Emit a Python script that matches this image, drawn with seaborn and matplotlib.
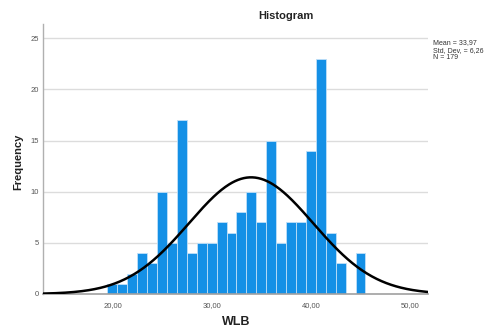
import numpy as np
import pandas as pd
import matplotlib
matplotlib.use("Agg")
import matplotlib.pyplot as plt
import seaborn as sns

# Data
bin_centers = [20, 21, 22, 23, 24, 25, 26, 27, 28, 29, 30, 31, 32, 33, 34, 35,
               36, 37, 38, 39, 40, 41, 42, 43, 44, 45]
counts = [1, 1, 2, 4, 3, 10, 5, 17, 4, 5, 5, 7, 6, 8, 10, 7,
          15, 5, 7, 7, 14, 23, 6, 3, 0, 4]
mean_val = 33.97
std_val = 6.26
n_val = 179
x_ticks = [20, 30, 40, 50]
x_tick_labels = ["20,00", "30,00", "40,00", "50,00"]
y_ticks = [0, 5, 10, 15, 20, 25]

sns.set_style("white")
plt.rcParams['font.family'] = ['Liberation Sans', 'DejaVu Sans']

df = pd.DataFrame({"WLB": bin_centers, "count": counts})

fig = plt.figure(figsize=(4.84, 3.28), dpi=100)
ax = fig.add_axes([43 / 484, 1 - 294 / 328, (428 - 43) / 484, (294 - 24) / 328])

for yv in y_ticks[1:]:
    ax.axhline(yv, color="#dcdcdc", lw=1.0, zorder=0)

sns.histplot(data=df, x="WLB", weights="count", binwidth=1.0,
             binrange=(bin_centers[0] - 0.5, bin_centers[-1] + 0.5), ax=ax,
             color="#1490e6", alpha=1.0, edgecolor="#bfe0f8", linewidth=0.6,
             zorder=2)

xs = np.linspace(13, 52, 400)
pdf = n_val * 1.0 / (std_val * np.sqrt(2 * np.pi)) * np.exp(-0.5 * ((xs - mean_val) / std_val) ** 2)
sns.lineplot(x=xs, y=pdf, ax=ax, color="black", lw=1.8, zorder=3)

ax.set_xlim(13.0, 51.8)
ax.set_ylim(0, 26.4)
ax.set_xticks(x_ticks)
ax.set_xticklabels(x_tick_labels)
ax.set_yticks(y_ticks)
ax.tick_params(axis="both", length=0, labelsize=5.5, labelcolor="#555555")
ax.tick_params(axis="x", pad=6)
ax.tick_params(axis="y", pad=3)

for s in ["top", "right"]:
    ax.spines[s].set_visible(False)
ax.spines["left"].set_color("#b0b0b0")
ax.spines["left"].set_linewidth(1.0)
ax.spines["bottom"].set_color("#a0a0a0")
ax.spines["bottom"].set_linewidth(1.2)

ax.set_xlabel("")
ax.set_ylabel("")
fig.text(236 / 484, 1 - 322 / 328, "WLB", ha="center", va="center",
         fontsize=9, fontweight="bold", color="#222222")
fig.text(18 / 484, 1 - 162 / 328, "Frequency", ha="center", va="center",
         rotation=90, fontsize=8, fontweight="bold", color="#222222")
fig.text(286 / 484, 1 - 16 / 328, "Histogram", ha="center", va="center",
         fontsize=8, fontweight="bold", color="#222222")

stats = [f"Mean = {mean_val:.2f}".replace(".", ","),
         f"Std. Dev. = {std_val:.2f}".replace(".", ","),
         f"N = {n_val}"]
for i, s in enumerate(stats):
    fig.text(433 / 484, 1 - (43 + i * 7.3) / 328, s, ha="left", va="center",
             fontsize=5, color="#333333")

fig.savefig("out.png", dpi=100)
